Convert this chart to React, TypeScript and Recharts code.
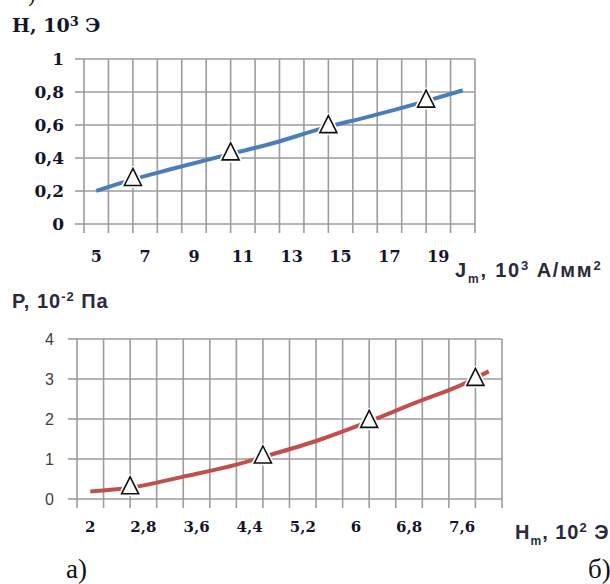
import React from 'react';
import { ComposedChart, Line, Scatter, XAxis, YAxis, CartesianGrid, ReferenceLine } from 'recharts';

// ---- Chart 1 (top): H vs Jm ----
const topXLabels = [5, 7, 9, 11, 13, 15, 17, 19];
const topXGrid = [4.5, 5.5, 6.5, 7.5, 8.5, 9.5, 10.5, 11.5, 12.5, 13.5, 14.5, 15.5, 16.5, 17.5, 18.5, 19.5, 20.5];
const topYTicks = [0, 0.2, 0.4, 0.6, 0.8, 1];
const topLineX = [5, 6.5, 8, 10.5, 12, 14.5, 16, 18.5, 20];
const topLineY = [0.2, 0.27, 0.33, 0.425, 0.48, 0.59, 0.645, 0.745, 0.81];
const topMarkX = [6.5, 10.5, 14.5, 18.5];
const topMarkY = [0.27, 0.425, 0.59, 0.745];

// ---- Chart 2 (bottom): P vs Hm ----
const botXLabels = [2, 2.8, 3.6, 4.4, 5.2, 6, 6.8, 7.6];
const botXGrid = [1.8, 2.2, 2.6, 3.0, 3.4, 3.8, 4.2, 4.6, 5.0, 5.4, 5.8, 6.2, 6.6, 7.0, 7.4, 7.8, 8.2];
const botYTicks = [0, 1, 2, 3, 4];
const botLineX = [2, 2.6, 3.4, 4.2, 4.6, 5.4, 6.2, 6.9, 7.6, 8.0];
const botLineY = [0.19, 0.28, 0.56, 0.86, 1.05, 1.45, 1.94, 2.41, 2.86, 3.19];
const botMarkX = [2.6, 4.6, 6.2, 7.8];
const botMarkY = [0.28, 1.05, 1.94, 2.99];

const zip = (xs: number[], ys: number[]) => xs.map((x, i) => ({ x, y: ys[i] }));
const topLine = zip(topLineX, topLineY);
const topMarks = zip(topMarkX, topMarkY);
const botLine = zip(botLineX, botLineY);
const botMarks = zip(botMarkX, botMarkY);
const topXTicks = [...topXGrid, ...topXLabels].sort((a, b) => a - b);
const botXTicks = [...botXGrid, ...botXLabels].sort((a, b) => a - b);

const comma = (v: number) => String(v).replace('.', ',');
const GRID = '#9c9c9c';
const has = (arr: number[], v: number) => arr.some((a) => Math.abs(a - v) < 1e-6);

const Tri = (props: any) => {
  const { cx, cy } = props;
  if (cx == null || cy == null) return null;
  const d = `M${cx},${cy - 11} L${cx + 8.5},${cy + 6} L${cx - 8.5},${cy + 6} Z`;
  return (
    <g>
      <path d={d} fill="#fff" stroke="#fff" strokeWidth={5} strokeLinejoin="round" />
      <path d={d} fill="#fff" stroke="#111" strokeWidth={1.6} strokeLinejoin="miter" />
    </g>
  );
};

const makeXTick = (grid: number[], labels: number[], style: any, labelDy: number) => (props: any) => {
  const { x, y, payload } = props;
  const v = payload.value;
  return (
    <g>
      {has(grid, v) && <line x1={x} y1={y} x2={x} y2={y + 9} stroke={GRID} strokeWidth={1.6} />}
      {has(labels, v) && (
        <text x={x} y={y + labelDy} textAnchor="middle" {...style}>
          {comma(v)}
        </text>
      )}
    </g>
  );
};

const serifTick = { fontFamily: 'DejaVu Serif', fontWeight: 700, fontSize: 16, fill: '#15152a' };
const serifTickY = { ...serifTick, fontSize: 17 };
const sansTick = { fontFamily: 'Liberation Sans', fontSize: 16, fill: '#404040' };

const TopXTick = makeXTick(topXGrid, topXLabels, serifTick, 38);
const BotXTick = makeXTick(botXGrid, botXLabels, { ...serifTick, fontSize: 15 }, 33);

const abs = (left: number, top: number, extra: React.CSSProperties = {}): React.CSSProperties => ({
  position: 'absolute',
  left,
  top,
  whiteSpace: 'nowrap',
  lineHeight: 1,
  ...extra,
});

const titleSans: React.CSSProperties = { fontFamily: 'Liberation Sans', fontWeight: 700, fontSize: 20, color: '#2a2a3a', letterSpacing: 1 };

export default function App() {
  return (
    <div style={{ position: 'absolute', left: 0, top: 0, width: 610, height: 584, background: '#fff', overflow: 'hidden' }}>
      <div style={abs(28, -16, { fontFamily: 'Liberation Serif', fontSize: 22, color: '#222' })}>)</div>

      <div style={{ position: 'absolute', left: 0, top: 0 }}>
        <ComposedChart width={610} height={268} margin={{ top: 59, right: 135, bottom: 0, left: 0 }}>
          <CartesianGrid stroke={GRID} strokeWidth={1.6} vertical={false} />
          {topXGrid.map((v) => (
            <ReferenceLine key={v} x={v} stroke={GRID} strokeWidth={1.6} />
          ))}
          <XAxis
            type="number"
            dataKey="x"
            domain={[4.5, 20.5]}
            ticks={topXTicks}
            interval={0}
            tick={<TopXTick />}
            tickSize={0}
            tickMargin={0}
            tickLine={false}
            axisLine={false}
            height={44}
            allowDataOverflow
          />
          <YAxis
            type="number"
            domain={[0, 1]}
            ticks={topYTicks}
            tickFormatter={comma}
            tickSize={9}
            tickMargin={11}
            tickLine={{ stroke: GRID, strokeWidth: 1.6 }}
            axisLine={false}
            tick={serifTickY}
            width={84}
            allowDataOverflow
          />
          <Line data={topLine} dataKey="y" type="monotone" stroke="#4a7ebb" strokeWidth={4} dot={false} isAnimationActive={false} />
          <Scatter data={topMarks} dataKey="y" shape={<Tri />} isAnimationActive={false} />
        </ComposedChart>
      </div>

      <div style={{ position: 'absolute', left: 0, top: 280 }}>
        <ComposedChart width={610} height={260} margin={{ top: 59, right: 108, bottom: 0, left: 0 }}>
          <CartesianGrid stroke={GRID} strokeWidth={1.6} vertical={false} />
          {botXGrid.map((v) => (
            <ReferenceLine key={v} x={v} stroke={GRID} strokeWidth={1.6} />
          ))}
          <XAxis
            type="number"
            dataKey="x"
            domain={[1.8, 8.2]}
            ticks={botXTicks}
            interval={0}
            tick={<BotXTick />}
            tickSize={0}
            tickMargin={0}
            tickLine={false}
            axisLine={false}
            height={41}
            allowDataOverflow
          />
          <YAxis
            type="number"
            domain={[0, 4]}
            ticks={botYTicks}
            tickSize={9}
            tickMargin={14}
            tickLine={{ stroke: GRID, strokeWidth: 1.6 }}
            axisLine={false}
            tick={sansTick}
            width={77}
            allowDataOverflow
          />
          <Line data={botLine} dataKey="y" type="monotone" stroke="#c0504d" strokeWidth={4} dot={false} isAnimationActive={false} />
          <Scatter data={botMarks} dataKey="y" shape={<Tri />} isAnimationActive={false} />
        </ComposedChart>
      </div>

      <div style={abs(12, 15, { fontFamily: 'DejaVu Serif', fontWeight: 700, fontSize: 19, color: '#15152a' })}>
        H, 10<sup style={{ fontSize: 13, verticalAlign: 6 }}>3</sup> Э
      </div>
      <div style={abs(455, 259, { ...titleSans, letterSpacing: 1.8 })}>
        J<sub style={{ fontSize: 12, verticalAlign: -6 }}>m</sub>, 10<sup style={{ fontSize: 13, verticalAlign: 7 }}>3</sup> A/мм<sup style={{ fontSize: 13, verticalAlign: 7 }}>2</sup>
      </div>
      <div style={abs(12, 290, titleSans)}>
        P, 10<sup style={{ fontSize: 13, verticalAlign: 7 }}>-2</sup> Па
      </div>
      <div style={abs(515, 521, titleSans)}>
        H<sub style={{ fontSize: 12, verticalAlign: -6 }}>m</sub>, 10<sup style={{ fontSize: 13, verticalAlign: 7 }}>2</sup> Э
      </div>
      <div style={abs(66, 556, { fontFamily: 'Liberation Serif', fontSize: 27, color: '#111' })}>а)</div>
      <div style={abs(588, 556, { fontFamily: 'Liberation Serif', fontSize: 27, color: '#111' })}>б)</div>
    </div>
  );
}
